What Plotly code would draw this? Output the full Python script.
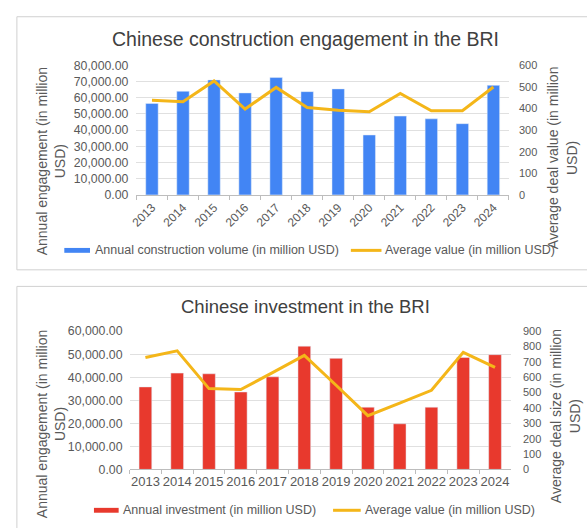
import plotly.graph_objects as go

W, H = 587, 528

years = ["2013", "2014", "2015", "2016", "2017", "2018", "2019", "2020", "2021", "2022", "2023", "2024"]

construction_volume = [56500, 64000, 71000, 63000, 72500, 63800, 65500, 37000, 48700, 47000, 44000, 67700]
construction_avg = [438, 432, 528, 398, 498, 405, 392, 385, 470, 390, 390, 500]

investment_volume = [35800, 41800, 41500, 33600, 40200, 53500, 48200, 27000, 19800, 27000, 48600, 49800]
investment_avg = [728, 772, 526, 520, 630, 742, 548, 350, 432, 515, 762, 664]

title_top = "Chinese construction engagement in the BRI"
title_bottom = "Chinese investment in the BRI"
left_title = "Annual engagement (in million<br>USD)"
right_title_top = "Average deal value (in million<br>USD)"
right_title_bottom = "Average deal size (in million<br>USD)"
legend_top = ["Annual construction volume (in million USD)", "Average value (in million USD)"]
legend_bottom = ["Annual investment (in million USD)", "Average value (in million USD)"]

BLUE = "#4285F4"
RED = "#E8392D"
GOLD = "#F4B619"
TXT = "#595959"
FONT = "Liberation Sans, Arial, sans-serif"


def px(x):
    return x / W


def py(y):
    return 1 - y / H


fig = go.Figure()
fig.add_trace(go.Bar(x=years, y=construction_volume, marker_color=BLUE, xaxis="x", yaxis="y",
                     name=legend_top[0]))
fig.add_trace(go.Scatter(x=years, y=construction_avg, mode="lines", line=dict(color=GOLD, width=3),
                         xaxis="x", yaxis="y2", name=legend_top[1]))
fig.add_trace(go.Bar(x=years, y=investment_volume, marker_color=RED, xaxis="x3", yaxis="y3",
                     name=legend_bottom[0]))
fig.add_trace(go.Scatter(x=years, y=investment_avg, mode="lines", line=dict(color=GOLD, width=3),
                         xaxis="x3", yaxis="y4", name=legend_bottom[1]))

ltick = dict(family=FONT, size=12.3, color=TXT)
rtick = dict(family=FONT, size=11, color=TXT)
grid = "#E0E0E0"

fig.update_layout(
    width=W, height=H,
    margin=dict(l=0, r=0, t=0, b=0),
    paper_bgcolor="white", plot_bgcolor="white",
    showlegend=False,
    bargap=0.6,
    font=dict(family=FONT, color=TXT),
    xaxis=dict(domain=[px(131), px(508)], anchor="y", type="category", tickangle=-45,
               tickfont=dict(family=FONT, size=12, color=TXT), showgrid=False, showline=True,
               linecolor="#BDBDBD", ticks="outside", ticklen=4, tickcolor="#BDBDBD",
               tickson="boundaries"),
    yaxis=dict(domain=[py(193), py(60)], anchor="x", range=[0, 80000], dtick=10000,
               tickformat=",.2f", tickfont=ltick, gridcolor=grid, zeroline=False,
               ticklabelstandoff=7),
    yaxis2=dict(overlaying="y", side="right", anchor="x", range=[0, 600], dtick=100,
                tickfont=rtick, showgrid=False, zeroline=False, ticklabelstandoff=9),
    xaxis3=dict(domain=[px(124), px(510)], anchor="y3", type="category", tickangle=0,
                tickfont=dict(family=FONT, size=13, color=TXT), showgrid=False, showline=True,
                linecolor="#BDBDBD", ticks="outside", ticklen=4, tickcolor="#BDBDBD",
                tickson="boundaries"),
    yaxis3=dict(domain=[py(475), py(333)], anchor="x3", range=[0, 60000], dtick=10000,
                tickformat=",.2f", tickfont=ltick, gridcolor=grid, zeroline=False,
                ticklabelstandoff=6),
    yaxis4=dict(overlaying="y3", side="right", anchor="x3", range=[0, 900], dtick=100,
                tickfont=rtick, showgrid=False, zeroline=False, ticklabelstandoff=11),
)

shapes = [
    dict(type="rect", xref="paper", yref="paper", x0=px(10), x1=px(620), y0=py(270), y1=py(10),
         line=dict(color="#D0D0D0", width=1), layer="below"),
    dict(type="rect", xref="paper", yref="paper", x0=px(10), x1=px(620), y0=py(560), y1=py(287),
         line=dict(color="#D0D0D0", width=1), layer="below"),
    # legend swatches
    dict(type="rect", xref="paper", yref="paper", x0=px(58), x1=px(84), y0=py(252.5), y1=py(247.5),
         fillcolor=BLUE, line=dict(width=0)),
    dict(type="line", xref="paper", yref="paper", x0=px(348), x1=px(379), y0=py(250), y1=py(250),
         line=dict(color=GOLD, width=3)),
    dict(type="rect", xref="paper", yref="paper", x0=px(88), x1=px(113), y0=py(519.5), y1=py(514.5),
         fillcolor=RED, line=dict(width=0)),
    dict(type="line", xref="paper", yref="paper", x0=px(330), x1=px(358), y0=py(517), y1=py(517),
         line=dict(color=GOLD, width=3)),
]
fig.update_layout(shapes=shapes)

ann = []


def text(x, y, s, size, color=TXT, xanchor="center", angle=0):
    ann.append(dict(xref="paper", yref="paper", x=px(x), y=py(y), text=s, showarrow=False,
                    font=dict(family=FONT, size=size, color=color), xanchor=xanchor,
                    yanchor="middle", textangle=angle))


text(302, 33, title_top, 19.5, "#404040")
text(302, 308, title_bottom, 18.5, "#404040")
text(44, 158, left_title, 14, angle=-90)
text(44, 428, left_title, 14, angle=-90)
text(562, 155, right_title_top, 14, angle=-90)
text(565, 420, right_title_bottom, 14, angle=-90)
text(87, 250, legend_top[0], 12.5, xanchor="left")
text(381, 250, legend_top[1], 12.5, xanchor="left")
text(115, 517, legend_bottom[0], 12.5, xanchor="left")
text(360, 517, legend_bottom[1], 12.5, xanchor="left")
fig.update_layout(annotations=ann)

fig.write_html("out.html", config={"displayModeBar": False},
               post_script="document.body.style.margin='0px';document.body.style.overflow='hidden';")
